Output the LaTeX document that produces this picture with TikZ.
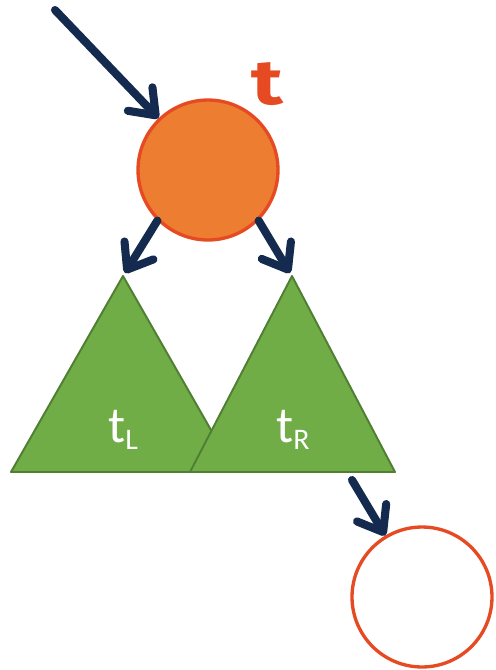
\documentclass[tikz,border=0pt]{standalone}
\usepackage{fontspec}
\setmainfont{Carlito}
\newfontfamily\handfont{Fira Sans}
\usetikzlibrary{arrows.meta}
\definecolor{rootfill}{HTML}{ED7D31}
\definecolor{rootline}{HTML}{E64A22}
\definecolor{treefill}{HTML}{70AD47}
\definecolor{treeline}{HTML}{507E32}
\definecolor{edge}{HTML}{142A4F}

\begin{document}
\begin{tikzpicture}[x=0.02cm,y=-0.02cm,
    ptr/.style={edge,line width=4.6pt,line cap=round,
      -{Straight Barb[length=4.5mm,width=6.8mm,round]}},
    vertex/.style={circle,draw=rootline,line width=1.9pt,minimum size=2.8cm,inner sep=0pt},
    subtree/.style={fill=treefill,draw=treeline,line width=1.1pt,line join=round},
    treelabel/.style={text=white,font=\fontsize{29}{29}\selectfont}]
  \useasboundingbox (0,0) rectangle (495,670);

  % the two subtrees, right one on top
  \draw[subtree] (11,472) -- (123,276) -- (235,472) -- cycle;
  \draw[subtree] (190,472) -- (292,276) -- (395,472) -- cycle;
  \coordinate (apexL) at (123,276);
  \coordinate (apexR) at (292,276);
  \node[treelabel] (tL) at (123,430) {t\raisebox{-0.3ex}{\fontsize{17}{17}\selectfont L}};
  \node[treelabel] (tR) at (293,430) {t\raisebox{-0.3ex}{\fontsize{17}{17}\selectfont R}};

  % root and the empty leaf
  \node[vertex,fill=rootfill] (root) at (208,170) {};
  \node[vertex,fill=white] (leaf) at (422,597) {};
  \node[text=rootline,xscale=1.3,font=\handfont\bfseries\fontsize{36}{36}\selectfont] (name) at (267,84) {t};

  \coordinate (in) at (55,10);
  \coordinate (out) at (352,480);
  \draw[ptr] (in) -- (root);
  \draw[ptr] (root.225) -- ([shift={(2,-3)}]apexL);
  \draw[ptr] (root.-45) -- ([shift={(-2,-3)}]apexR);
  \draw[ptr] (out) -- (leaf);
\end{tikzpicture}
\end{document}
